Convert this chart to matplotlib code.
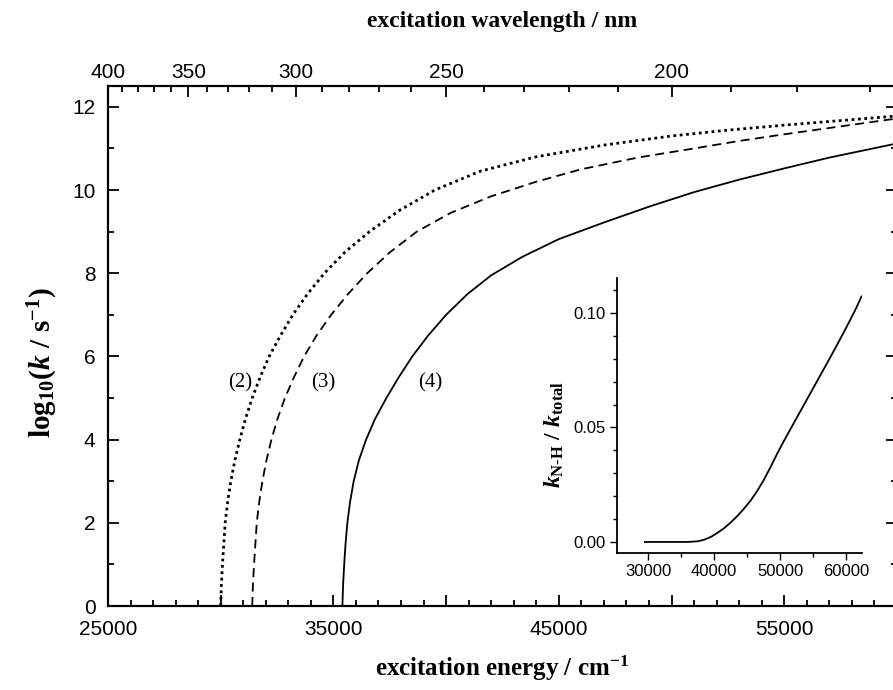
import matplotlib
matplotlib.use("Agg")
import matplotlib.pyplot as plt
from matplotlib.ticker import MultipleLocator, FixedLocator, NullFormatter, FormatStrFormatter

# curve (2), dotted
e2 = [30000, 30030, 30080, 30140, 30200, 30310, 30450, 30630, 30850, 31100, 31400, 31750,
      32150, 32650, 33200, 33850, 34600, 35500, 36600, 37900, 39500, 41500, 44000, 47000,
      50000, 52500, 55000, 57500, 60000]
k2 = [0.0, 0.5, 1.0, 1.5, 2.0, 2.5, 3.0, 3.5, 4.0, 4.5, 5.0, 5.5,
      6.0, 6.5, 7.0, 7.5, 8.0, 8.5, 9.0, 9.5, 10.0, 10.45, 10.8, 11.08,
      11.3, 11.44, 11.56, 11.67, 11.78]
# curve (3), dashed
e3 = [31400, 31430, 31480, 31540, 31600, 31710, 31850, 32030, 32250, 32520, 32850, 33250,
      33700, 34250, 34900, 35650, 36500, 37500, 38700, 40200, 42000, 44000, 46000, 48500,
      51000, 53000, 55000, 57500, 60000]
k3 = [0.0, 0.5, 1.0, 1.5, 2.0, 2.5, 3.0, 3.5, 4.0, 4.5, 5.0, 5.5,
      6.0, 6.5, 7.0, 7.5, 8.0, 8.5, 9.0, 9.45, 9.85, 10.2, 10.5, 10.78,
      11.0, 11.18, 11.34, 11.53, 11.72]
# curve (4), solid
e4 = [35400, 35430, 35480, 35540, 35620, 35740, 35900, 36130, 36450, 36850, 37350, 37900,
      38500, 39200, 40000, 40950, 42000, 43400, 45000, 47000, 49000, 51000, 53000, 55000,
      57000, 60000]
k4 = [0.0, 0.5, 1.0, 1.5, 2.0, 2.5, 3.0, 3.5, 4.0, 4.5, 5.0, 5.5,
      6.0, 6.5, 7.0, 7.5, 7.95, 8.4, 8.82, 9.22, 9.6, 9.95, 10.25, 10.52,
      10.78, 11.12]

# inset: branching ratio k_NH / k_total
ein = [29500, 36000, 37500, 38500, 39500, 40500, 41500, 42500, 43500, 44500, 45500, 46500,
       47500, 48500, 49500, 50500, 51500, 52500, 53500, 54500, 55500, 56500, 57500, 58500,
       59500, 60500, 61500, 62300]
rin = [0.0, 0.0, 0.0003, 0.001, 0.0022, 0.004, 0.006, 0.0085, 0.0113, 0.0145, 0.018, 0.0222,
       0.027, 0.0325, 0.0383, 0.0438, 0.049, 0.0542, 0.0594, 0.0646, 0.0698, 0.075, 0.0802,
       0.0855, 0.0909, 0.0964, 0.1021, 0.1072]

curve_labels = ["(2)", "(3)", "(4)"]
label_pos = [(30860, 5.36), (34540, 5.36), (39290, 5.36)]

wl_major = [400, 350, 300, 250, 200]
wl_minor = [390, 380, 370, 360, 340, 330, 320, 310, 290, 280, 270, 260,
            240, 230, 220, 210, 190, 180, 170]
x_major = [25000, 30000, 35000, 40000, 45000, 50000, 55000, 60000]
x_major_labels = ["25000", "", "35000", "", "45000", "", "55000", ""]

plt.rcParams["mathtext.fontset"] = "custom"
plt.rcParams["mathtext.rm"] = "Liberation Serif:bold"
plt.rcParams["mathtext.bf"] = "Liberation Serif:bold"
plt.rcParams["mathtext.it"] = "Liberation Serif:bold:italic"
tick_font = "Liberation Sans"
serif = "Liberation Serif"

fig = plt.figure(figsize=(8.93, 6.9), dpi=100)
ax = fig.add_axes([0.1209, 0.1217, 0.8835, 0.7536])

ax.plot(e2, k2, color="black", linestyle=(0, (1, 1.3)), linewidth=2.0)
ax.plot(e3, k3, color="black", linestyle=(0, (5, 3)), linewidth=1.3)
ax.plot(e4, k4, color="black", linestyle="-", linewidth=1.3)

for txt, (x, y) in zip(curve_labels, label_pos):
    ax.text(x, y, txt, family=serif, fontsize=15, ha="center", va="center")

ax.set_xlim(25000, 60000)
ax.set_ylim(0, 12.5)
ax.set_xticks(x_major)
ax.set_xticklabels(x_major_labels)
ax.xaxis.set_minor_locator(MultipleLocator(1000))
ax.yaxis.set_major_locator(MultipleLocator(2))
ax.yaxis.set_minor_locator(MultipleLocator(1))
ax.tick_params(which="both", direction="in", top=False, right=True, width=1.3,
               labelsize=15)
ax.tick_params(axis="x", pad=10)
ax.tick_params(axis="y", pad=9)
ax.tick_params(which="major", length=8)
ax.tick_params(which="minor", length=4)
for lab in ax.get_xticklabels() + ax.get_yticklabels():
    lab.set_family(tick_font)
for s in ax.spines.values():
    s.set_linewidth(1.5)

ax.set_xlabel(r"excitation energy / cm$^{\mathbf{-1}}$", family=serif,
              fontweight="bold", fontsize=18, labelpad=11)
ax.set_ylabel(r"$\mathrm{log}_{10}(k\ /\ \mathrm{s}^{-1})$", fontsize=21)
ax.yaxis.set_label_coords(-0.061, 0.467)

# top axis in wavelength
ax2 = ax.twiny()
ax2.set_xlim(ax.get_xlim())
ax2.xaxis.set_major_locator(FixedLocator([1e7 / w for w in wl_major]))
ax2.set_xticklabels([str(w) for w in wl_major])
ax2.xaxis.set_minor_locator(FixedLocator([1e7 / w for w in wl_minor]))
ax2.xaxis.set_minor_formatter(NullFormatter())
ax2.tick_params(which="both", direction="in", width=1.3, labelsize=15, pad=3)
ax2.tick_params(which="major", length=8)
ax2.tick_params(which="minor", length=4)
for lab in ax2.get_xticklabels():
    lab.set_family(tick_font)
ax2.set_xlabel("excitation wavelength / nm", family=serif, fontweight="bold",
               fontsize=17, labelpad=26)
for s in ax2.spines.values():
    s.set_linewidth(1.5)

# inset
axi = fig.add_axes([0.691, 0.1986, 0.2744, 0.3986])
axi.plot(ein, rin, color="black", linewidth=1.3)
axi.set_xlim(25300, 62400)
axi.set_ylim(-0.0048, 0.1153)
axi.xaxis.set_major_locator(MultipleLocator(10000))
axi.xaxis.set_minor_locator(MultipleLocator(5000))
axi.yaxis.set_major_locator(MultipleLocator(0.05))
axi.yaxis.set_minor_locator(MultipleLocator(0.01))
axi.yaxis.set_major_formatter(FormatStrFormatter("%.2f"))
axi.spines["top"].set_visible(False)
axi.spines["right"].set_visible(False)
for s in ["left", "bottom"]:
    axi.spines[s].set_linewidth(1.3)
axi.tick_params(which="both", direction="out", width=1.0, labelsize=12, pad=3)
axi.tick_params(which="major", length=5)
axi.tick_params(which="minor", length=3)
for lab in axi.get_xticklabels() + axi.get_yticklabels():
    lab.set_family(tick_font)
axi.set_ylabel(r"$k_{\mathrm{N\text{-}H}}\ /\ k_{\mathrm{total}}$", fontsize=17)
axi.yaxis.set_label_coords(-0.21, 0.431)

fig.savefig("out.png", dpi=100)
